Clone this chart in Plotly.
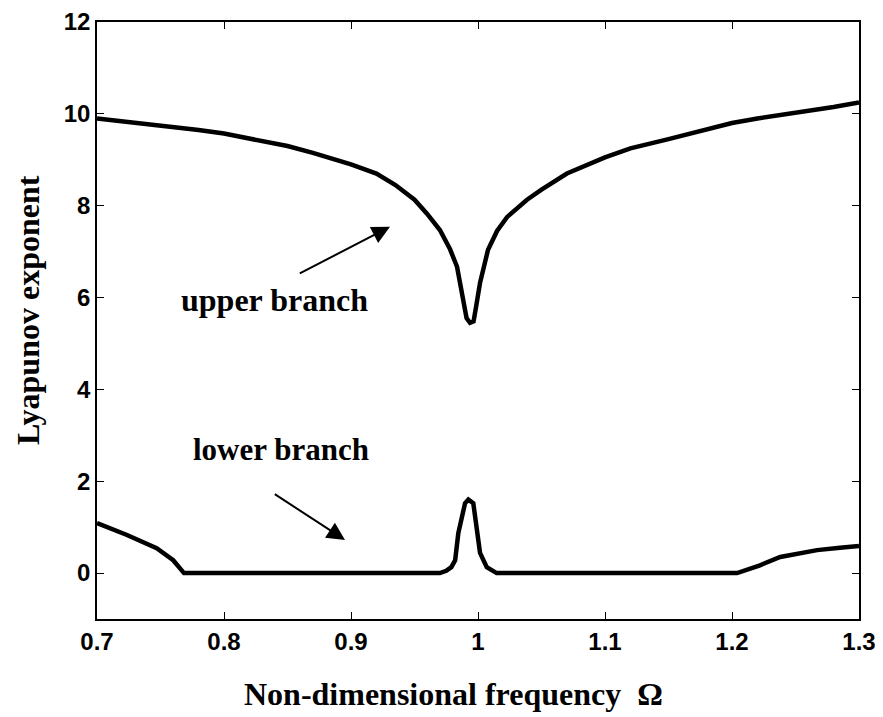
import plotly.graph_objects as go

# Upper branch
upper_x = [0.70, 0.72, 0.75, 0.78, 0.80, 0.82, 0.85, 0.87, 0.90, 0.92, 0.935, 0.95, 0.96, 0.97,
           0.978, 0.9835, 0.988, 0.991, 0.9937, 0.9965, 0.9985, 1.0016, 1.0079, 1.015, 1.0228,
           1.0386, 1.05, 1.07, 1.10, 1.12, 1.15, 1.18, 1.20, 1.22, 1.25, 1.28, 1.30]
upper_y = [9.90, 9.84, 9.75, 9.65, 9.57, 9.47, 9.30, 9.15, 8.90, 8.70, 8.45, 8.13, 7.82, 7.47,
           7.05, 6.67, 5.95, 5.55, 5.45, 5.48, 5.80, 6.32, 7.04, 7.45, 7.75,
           8.13, 8.35, 8.70, 9.05, 9.25, 9.45, 9.65, 9.80, 9.90, 10.02, 10.15, 10.25]

# Lower branch
lower_x = [0.70, 0.7236, 0.747, 0.76, 0.7685, 0.970, 0.975, 0.979, 0.982, 0.9845, 0.9898, 0.9924,
           0.9963, 1.0016, 1.0069, 1.0147, 1.204, 1.222, 1.238, 1.2535, 1.267, 1.285, 1.30]
lower_y = [1.09, 0.83, 0.54, 0.28, 0.0, 0.0, 0.05, 0.13, 0.28, 0.87, 1.52, 1.60,
           1.52, 0.44, 0.13, 0.0, 0.0, 0.17, 0.35, 0.43, 0.50, 0.55, 0.59]

x_ticks = [0.7, 0.8, 0.9, 1.0, 1.1, 1.2, 1.3]
x_tick_labels = ["0.7", "0.8", "0.9", "1", "1.1", "1.2", "1.3"]
y_ticks = [0, 2, 4, 6, 8, 10, 12]

fig = go.Figure()
for xs, ys in [(upper_x, upper_y), (lower_x, lower_y)]:
    fig.add_trace(go.Scatter(x=xs, y=ys, mode="lines",
                             line=dict(color="black", width=4.5),
                             showlegend=False, hoverinfo="skip"))

tick_font = dict(family="Arial, Liberation Sans", size=24, color="black", weight="bold")
axis_common = dict(showgrid=False, zeroline=False, showline=True, linecolor="black", linewidth=1.5,
                   mirror="ticks", ticks="inside", ticklen=7, tickwidth=1, tickcolor="black",
                   tickfont=tick_font, automargin=False)

fig.update_xaxes(range=[0.7, 1.3], tickvals=x_ticks, ticktext=x_tick_labels, **axis_common)
fig.update_yaxes(range=[-1, 12], tickvals=y_ticks, **axis_common)

serif = "Times New Roman, Liberation Serif, serif"
anns = [
    dict(x=0.4685, y=-0.126, xref="paper", yref="paper", text="<b>Non-dimensional frequency  Ω</b>",
         xanchor="center", yanchor="middle",
         showarrow=False, font=dict(family=serif, size=32, color="black")),
    dict(x=-0.0905, y=0.5176, xref="paper", yref="paper", text="<b>Lyapunov exponent</b>",
         xanchor="center", yanchor="middle",
         showarrow=False, textangle=-90, font=dict(family=serif, size=32, color="black")),
    dict(x=0.840, y=5.95, xref="x", yref="y", text="<b>upper branch</b>",
         xanchor="center", yanchor="middle",
         showarrow=False, font=dict(family=serif, size=32, color="black")),
    dict(x=0.845, y=2.70, xref="x", yref="y", text="<b>lower branch</b>",
         xanchor="center", yanchor="middle",
         showarrow=False, font=dict(family=serif, size=31, color="black")),
    dict(x=0.9307, y=7.54, ax=0.8585, ay=6.51, xref="x", yref="y", axref="x", ayref="y",
         text="", showarrow=True, arrowhead=2, arrowsize=1.8, arrowwidth=2, arrowcolor="black"),
    dict(x=0.8953, y=0.72, ax=0.8388, ay=1.74, xref="x", yref="y", axref="x", ayref="y",
         text="", showarrow=True, arrowhead=2, arrowsize=1.8, arrowwidth=2, arrowcolor="black"),
]
# page body has an 8px default margin; compensate so the plot area lands at the reference spot
fig.update_layout(annotations=anns, width=875, height=709,
                  margin=dict(l=89, r=24, t=14, b=98),
                  plot_bgcolor="white", paper_bgcolor="white")

fig.write_html("out.html")
